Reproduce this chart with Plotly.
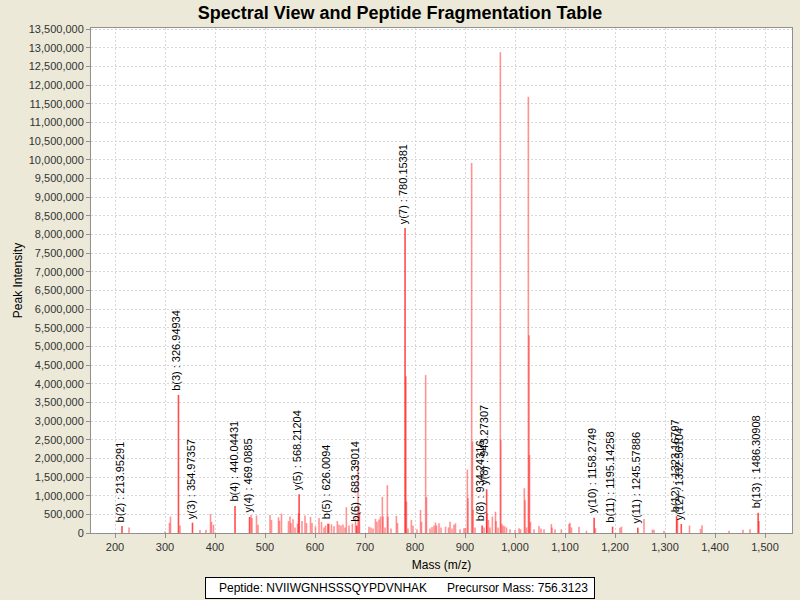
import plotly.graph_objects as go

# ---- data ----
peak_mz = [228, 300, 309, 311, 330, 370, 382, 391, 393, 397,
           472, 474, 483, 486, 510, 513, 527, 529, 533, 547, 550, 552, 556, 560, 565, 567,
           574, 580, 583, 591, 594, 601,
           608, 613, 618, 621, 628, 633, 638, 644.7, 648, 652, 656, 660, 662.7, 668, 674.7,
           681, 686, 688, 689,
           708, 712, 716, 721, 724, 728, 731, 734.7, 736, 740, 744.7, 746, 752, 762.7, 765,
           782, 783, 786, 792.7, 796, 804, 811, 813, 821.3, 823,
           830, 834, 838, 841, 843, 848, 852, 861, 867, 870, 874, 878, 881, 890, 898, 901,
           904.7, 906, 913.3, 915, 916, 920, 938, 944, 947, 950, 954.7, 961, 962, 966,
           970.7, 971.5, 973.3, 976, 979, 983, 990, 1000, 1008, 1011, 1018.7, 1020, 1023,
           1026.7, 1028, 1029, 1031, 1038, 1048, 1052, 1058, 1072.7, 1074, 1080, 1092.7,
           1108, 1110, 1113, 1128, 1143, 1161, 1210, 1213, 1258, 1274.7, 1278, 1298, 1325,
           1349, 1371, 1374, 1428, 1456, 1470, 1488]
peak_int = [150000, 40000, 270000, 440000, 200000, 80000, 80000, 510000, 300000, 220000,
            480000, 400000, 470000, 220000, 480000, 350000, 420000, 330000, 520000, 320000,
            440000, 270000, 370000, 150000, 250000, 530000,
            320000, 470000, 270000, 430000, 270000, 180000,
            400000, 300000, 150000, 200000, 250000, 230000, 180000, 320000, 220000, 200000,
            230000, 150000, 690000, 200000, 250000,
            400000, 1930000, 720000, 560000,
            170000, 150000, 120000, 380000, 300000, 360000, 440000, 970000, 440000, 150000,
            1280000, 440000, 120000, 460000, 270000,
            4200000, 840000, 120000, 350000, 200000, 100000, 616000, 300000, 4230000, 960000,
            120000, 160000, 200000, 280000, 200000, 260000, 150000, 170000, 150000, 300000,
            120000, 220000, 260000, 100000, 130000, 130000,
            1700000, 940000, 9910000, 2450000, 620000, 150000, 150000, 530000, 350000, 150000,
            440000, 570000, 320000, 150000,
            12880000, 2490000, 250000, 200000, 180000, 150000, 100000, 80000, 130000, 100000,
            1200000, 880000, 150000,
            11690000, 5300000, 2090000, 300000, 100000, 187000, 120000, 100000, 240000, 150000,
            100000, 100000,
            240000, 276000, 150000, 170000, 60000, 130000, 140000, 170000, 375000, 90000,
            90000, 60000, 380000,
            200000, 110000, 210000, 60000, 90000, 100000, 320000]

ion_mz = [213.95291, 326.94934, 354.97357, 440.04431, 469.0885, 568.21204, 626.0094,
          683.39014, 780.15381, 934.24316, 943.27307, 1158.2749, 1195.14258, 1245.57886,
          1323.16797, 1332.56104, 1486.30908]
ion_int = [190000, 3700000, 277000, 723000, 430000, 1040000, 250000,
           200000, 8170000, 200000, 1170000, 410000, 170000, 143000,
           450000, 240000, 545000]
ion_names = ["b(2)", "b(3)", "y(3)", "b(4)", "y(4)", "y(5)", "b(5)",
             "b(6)", "y(7)", "b(8)", "y(8)", "y(10)", "b(11)", "y(11)",
             "b(12)", "y(12)", "b(13)"]

peptide = "NVIIWGNHSSSQYPDVNHAK"
precursor_mass = "756.3123"


def stems(xs, ys):
    sx, sy = [], []
    for x, y in zip(xs, ys):
        sx += [x, x, None]
        sy += [0, y, None]
    return sx, sy


fig = go.Figure()
px_, py_ = stems(peak_mz, peak_int)
fig.add_trace(go.Scatter(x=px_, y=py_, mode="lines",
                         line=dict(color="rgba(255,40,40,0.5)", width=1.6),
                         hoverinfo="skip", showlegend=False))
ix_, iy_ = stems(ion_mz, ion_int)
fig.add_trace(go.Scatter(x=ix_, y=iy_, mode="lines",
                         line=dict(color="rgba(255,0,0,0.7)", width=1.6),
                         hoverinfo="skip", showlegend=False))

for m, h, n in zip(ion_mz, ion_int, ion_names):
    fig.add_annotation(x=m, y=h, text=f"{n} : {m}", textangle=-90,
                       showarrow=False, xanchor="center", yanchor="bottom",
                       xshift=-2, yshift=2,
                       font=dict(family="Liberation Sans", size=11, color="#000000"))

fig.add_annotation(xref="paper", yref="paper", x=(400 - 91) / 701, y=(533 - 587.5) / 505,
                   text="&nbsp;&nbsp;&nbsp;Peptide: " + peptide
                        + "&nbsp;&nbsp;&nbsp;&nbsp;&nbsp;&nbsp;Precursor Mass: " + precursor_mass + "&nbsp;",
                   showarrow=False, xanchor="center", yanchor="middle",
                   bgcolor="white", bordercolor="black", borderwidth=1, borderpad=3,
                   font=dict(family="Liberation Sans", size=12, color="#000000"))

axis_common = dict(showline=True, linecolor="#909090", linewidth=1, mirror=True,
                   ticks="outside", ticklen=4, tickcolor="#909090",
                   showgrid=True, gridcolor="#d8d8d8", gridwidth=1, griddash="2px,2px",
                   zeroline=False, automargin=False,
                   tickfont=dict(family="Liberation Sans", size=11, color="#333333"))

fig.update_layout(
    width=800, height=600,
    paper_bgcolor="#ECE9D8", plot_bgcolor="white",
    margin=dict(l=91, r=8, t=28, b=67, autoexpand=False),
    title=dict(text="<b>Spectral View and Peptide Fragmentation Table</b>",
               x=0.5, xref="container", xanchor="center",
               y=1 - 13 / 600, yref="container", yanchor="middle",
               font=dict(family="Liberation Sans", size=18, color="#000000")),
    xaxis=dict(range=[152, 1554], tick0=200, dtick=100, tickformat=",d",
               title=dict(text="Mass (m/z)", standoff=8,
                          font=dict(family="Liberation Sans", size=12, color="#000000")),
               **axis_common),
    yaxis=dict(range=[0, 13530000], tick0=0, dtick=500000, tickformat=",d",
               title=dict(text="Peak Intensity", standoff=3,
                          font=dict(family="Liberation Sans", size=12, color="#000000")),
               **axis_common),
)

fig.write_html("out.html",
               config={"displayModeBar": False},
               post_script="document.body.style.margin='0';"
                           "document.body.style.background='#ECE9D8';")
